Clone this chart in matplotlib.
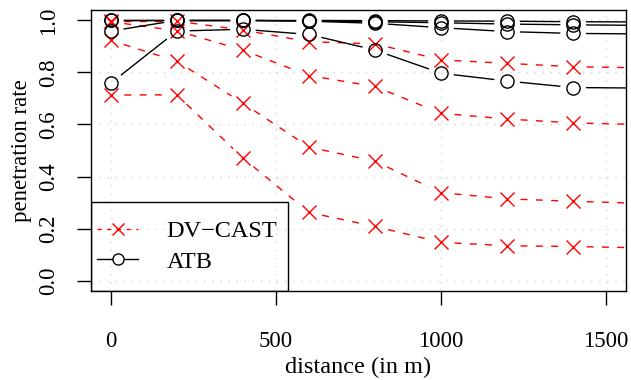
import numpy as np
import matplotlib
matplotlib.use('Agg')
import matplotlib.pyplot as plt
from matplotlib.lines import Line2D
from matplotlib.patches import Rectangle

# distancias (o ultimo ponto fica fora da area visivel, como no original)
distance = [0, 200, 400, 600, 800, 1000, 1200, 1400, 1600]

# DV-CAST (vermelho, tracejado)
dv_1 = [0.713, 0.714, 0.471, 0.262, 0.208, 0.147, 0.134, 0.131, 0.126]
dv_2 = [0.923, 0.843, 0.682, 0.513, 0.459, 0.338, 0.314, 0.305, 0.297]
dv_3 = [0.995, 0.960, 0.886, 0.788, 0.746, 0.643, 0.621, 0.606, 0.600]
dv_4 = [0.997, 0.997, 0.963, 0.918, 0.910, 0.848, 0.835, 0.822, 0.818]

# ATB (preto, continuo)
atb_1 = [0.759, 0.959, 0.966, 0.946, 0.886, 0.797, 0.767, 0.742, 0.740]
atb_2 = [0.959, 1.000, 1.000, 0.997, 0.989, 0.972, 0.957, 0.950, 0.948]
atb_3 = [1.000, 1.000, 1.000, 0.998, 0.995, 0.991, 0.986, 0.983, 0.981]
atb_4 = [1.000, 1.000, 1.000, 1.000, 0.999, 0.998, 0.997, 0.995, 0.994]

x_ticks = [0, 500, 1000, 1500]
y_ticks = [0.0, 0.2, 0.4, 0.6, 0.8, 1.0]
y_labels = ['0.0', '0.2', '0.4', '0.6', '0.8', '1.0']

plt.rcParams['font.family'] = ['Liberation Serif', 'DejaVu Serif']
plt.rcParams['font.size'] = 16.5

fig = plt.figure(figsize=(6.31, 3.80), dpi=100)
ax = fig.add_subplot(111)
fig.subplots_adjust(left=91/631, right=626/631, bottom=1-291/380, top=1-10/380)
ax.set_xlim(-60, 1560)
ax.set_ylim(-0.04, 1.04)


def linha_b(ax, x, y, color, ls, marker, gap=13.5):
    # estilo type="b" do R: segmentos com espaco em volta dos pontos
    pts = ax.transData.transform(np.column_stack([x, y]))
    inv = ax.transData.inverted()
    for p0, p1 in zip(pts[:-1], pts[1:]):
        d = p1 - p0
        L = np.hypot(d[0], d[1])
        if L <= 2 * gap:
            continue
        u = d / L
        seg = inv.transform(np.array([p0 + u * gap, p1 - u * gap]))
        ax.plot(seg[:, 0], seg[:, 1], color=color, ls=ls, lw=1.0, zorder=3)
    ax.plot(x, y, ls='none', marker=marker, color=color, markersize=9.5,
            markeredgewidth=1.0, markerfacecolor='none', zorder=4)


# grade pontilhada
for xv in x_ticks:
    ax.axvline(xv, color='lightgray', lw=1, ls=(0, (1, 4.8)), zorder=1)
for yv in y_ticks:
    ax.axhline(yv, color='lightgray', lw=1, ls=(0, (1, 4.8)), zorder=1)

for serie in [dv_1, dv_2, dv_3, dv_4]:
    linha_b(ax, distance, serie, 'red', (0, (5, 6)), 'x')
for serie in [atb_1, atb_2, atb_3, atb_4]:
    linha_b(ax, distance, serie, 'black', '-', 'o')

ax.set_xticks(x_ticks)
ax.set_xticklabels([str(v) for v in x_ticks])
ax.set_yticks(y_ticks)
ax.set_yticklabels(y_labels, rotation=90, va='center')
ax.tick_params(direction='out', length=10, width=1)
ax.tick_params(axis='x', pad=19)
ax.tick_params(axis='y', pad=13)
for s in ax.spines.values():
    s.set_linewidth(1)

ax.set_xlabel('distance (in m)', fontsize=17.5, labelpad=3)
ax.set_ylabel('penetration rate', labelpad=4)

# legenda sem moldura propria + retangulo estilo R
handles = [
    Line2D([], [], color='red', ls=(0, (3, 4)), lw=1.0, marker='x', markersize=9),
    Line2D([], [], color='black', ls='-', lw=1.0, marker='o', markersize=8,
           markerfacecolor='white'),
]
ax.legend(handles, ['DV\u2212CAST', 'ATB'], loc='center left',
          bbox_to_anchor=(6/535, (291-246.5)/281), borderaxespad=0,
          borderpad=0, frameon=False, handlelength=1.7, handletextpad=1.15,
          labelspacing=0.35, fontsize=17.5)
ax.add_patch(Rectangle((0, 0), 197/535, 89/281, transform=ax.transAxes,
                       fill=False, edgecolor='black', lw=1, zorder=5))

fig.savefig('out.png', dpi=100)
